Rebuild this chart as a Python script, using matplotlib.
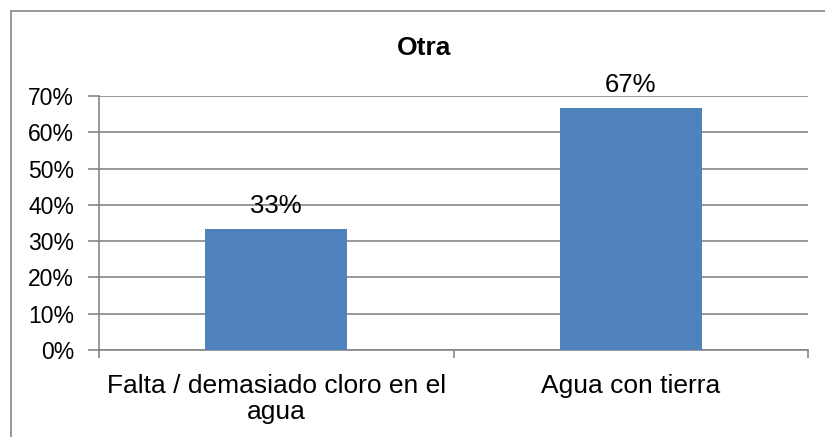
import matplotlib
matplotlib.use("Agg")
import matplotlib.pyplot as plt
from matplotlib.ticker import PercentFormatter
from matplotlib.patches import Rectangle

categories = ["Falta / demasiado cloro en el\nagua", "Agua con tierra"]
values = [1/3, 2/3]
labels = ["33%", "67%"]
title = "Otra"

plt.rcParams['font.family'] = ['Liberation Sans', 'DejaVu Sans']

fig = plt.figure(figsize=(8.25, 4.37), dpi=100)
W, H = 825, 437
ax = fig.add_axes([99/W, 1 - 350/H, (808-99)/W, (350-96)/H])

grid_c = "#868686"
x = [0.5, 1.5]
ax.bar(x, values, width=0.4, color="#4F81BD", zorder=3)
ax.set_xlim(0, 2)
ax.set_ylim(0, 0.7)
ax.set_yticks([i/10 for i in range(8)])
ax.yaxis.set_major_formatter(PercentFormatter(1.0, decimals=0))
ax.grid(axis='y', color=grid_c, linewidth=1.2, zorder=0)
for s in ['top', 'right']:
    ax.spines[s].set_visible(False)
for s in ['left', 'bottom']:
    ax.spines[s].set_color(grid_c)
    ax.spines[s].set_linewidth(1.2)
ax.tick_params(axis='y', length=8, color=grid_c, width=1.2, labelsize=16.5, pad=10)
ax.set_xticks([0, 1, 2])
ax.set_xticklabels([])
ax.tick_params(axis='x', length=6, color=grid_c, width=1.2)
ax.set_xticks(x, minor=True)
ax.set_xticklabels(categories, minor=True, fontsize=19, linespacing=1.1)
for t in ax.get_xticklabels(minor=True):
    t.set_multialignment('center')
ax.tick_params(axis='x', which='minor', length=0, pad=17)

for xi, v, l in zip(x, values, labels):
    ax.annotate(l, (xi, v), xytext=(0, 8), textcoords='offset points',
                ha='center', va='bottom', fontsize=18.5)

fig.text(424/W, 1 - 48/H, title, ha='center', va='center', fontsize=19, fontweight='bold')

fig.add_artist(Rectangle((11/W, -0.1), 1.2, 1 - 11/H + 0.1, transform=fig.transFigure,
                         fill=False, edgecolor=grid_c, linewidth=1.2))

fig.savefig("out.png", dpi=100)
